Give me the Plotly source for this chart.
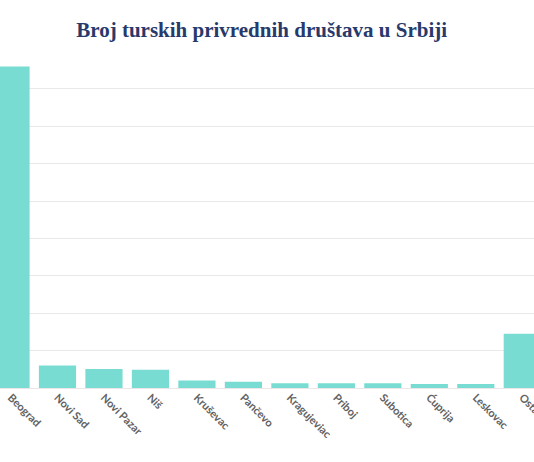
import plotly.graph_objects as go

# data
gradovi = ['Beograd', 'Novi Sad', 'Novi Pazar', 'Niš', 'Kruševac', 'Pančevo',
           'Kragujeviac', 'Priboj', 'Subotica', 'Ćuprija', 'Leskovac', 'Ostalo']
broj = [860, 60, 51, 49, 20, 17, 13, 13, 13, 11, 11, 145]

fig = go.Figure()

fig.add_trace(go.Bar(
    x=gradovi,
    y=broj,
    marker=dict(color='#78dcd3', line=dict(width=0)),
    hoverinfo='x+y'
))

fig.update_layout(
    width=534,
    height=462,
    title=dict(
        text='<b>Broj turskih privrednih društava u Srbiji</b>',
        font=dict(family='Liberation Serif, Times New Roman, serif', size=21, color='#283a6b'),
        x=0.49, xanchor='center',
        y=1 - 30 / 462, yanchor='middle', yref='container'
    ),
    margin=dict(l=0, r=0, t=59, b=74),
    paper_bgcolor='white',
    plot_bgcolor='white',
    bargap=0.2,
    showlegend=False,
    xaxis=dict(
        range=[-0.2367, 11.252],
        tickangle=45,
        tickfont=dict(family='Lato, sans-serif', size=11, color='#626262', weight='bold'),
        showgrid=False,
        showline=False,
        ticks='',
        automargin=False
    ),
    yaxis=dict(
        range=[0, 880],
        dtick=100,
        showticklabels=False,
        gridcolor='#e9e9e9',
        gridwidth=1,
        zeroline=True,
        zerolinecolor='#ece6e8',
        zerolinewidth=1,
        automargin=False
    )
)

# drop the page's default body margin so the chart sits at the window's corner
fig.write_html('out.html',
               config={'displayModeBar': False},
               post_script="document.body.style.margin='0';document.body.style.overflow='hidden';")
